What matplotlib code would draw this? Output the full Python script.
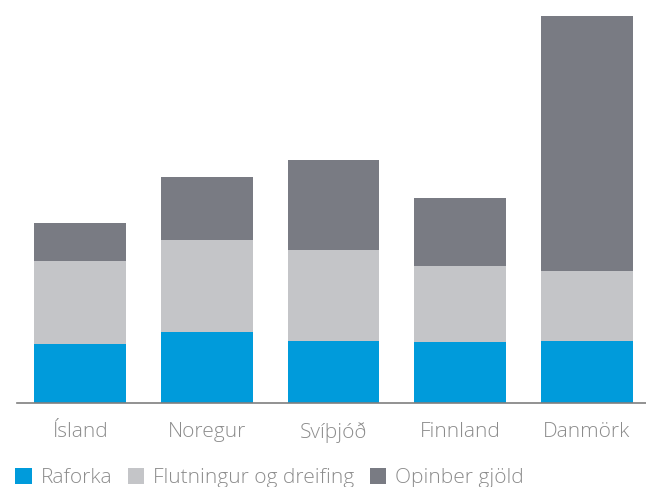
import matplotlib
matplotlib.use("Agg")
import matplotlib.pyplot as plt
import numpy as np

categories = ["Ísland", "Noregur", "Svíþjóð", "Finnland", "Danmörk"]
raforka = [59, 71, 62, 61, 62]
flutningur = [83, 92, 91, 76, 70]
opinber = [38, 63, 90, 68, 255]
series_names = ["Raforka", "Flutningur og dreifing", "Opinber gjöld"]

colors = ["#009BDB", "#C4C5C8", "#797B83"]
text_color = "#8C8C8C"

plt.rcParams['font.family'] = ['Open Sans', 'DejaVu Sans']

fig = plt.figure(figsize=(6.46, 4.87), dpi=100)
ax = fig.add_axes([17/646, 1-403/487, 1-17/646, (403-16)/487])

x = np.arange(len(categories))
w = 0.725
b1 = ax.bar(x, raforka, w, color=colors[0], label=series_names[0])
bottom2 = np.array(raforka)
b2 = ax.bar(x, flutningur, w, bottom=bottom2, color=colors[1], label=series_names[1])
bottom3 = bottom2 + np.array(flutningur)
b3 = ax.bar(x, opinber, w, bottom=bottom3, color=colors[2], label=series_names[2])

ax.set_xlim(-0.5, 4.5 - 4/126.75)
ax.set_ylim(0, 387)
for s in ["top", "right", "left"]:
    ax.spines[s].set_visible(False)
ax.spines["bottom"].set_color("#7F7F7F")
ax.spines["bottom"].set_linewidth(1.2)
ax.set_yticks([])
ax.set_xticks(x)
ax.set_xticklabels(categories, fontsize=15, color=text_color, fontweight='light')
ax.tick_params(axis='x', length=0, pad=14)

leg = fig.legend(handles=[b1, b2, b3], labels=series_names, loc="lower left",
                 bbox_to_anchor=(0.011, -0.019), ncol=3, frameon=False,
                 fontsize=15, handlelength=0.78, handleheight=0.78,
                 handletextpad=0.42, columnspacing=0.75, borderaxespad=0)
for t in leg.get_texts():
    t.set_color(text_color)
    t.set_fontweight('light')

fig.savefig("out.png", dpi=100)
